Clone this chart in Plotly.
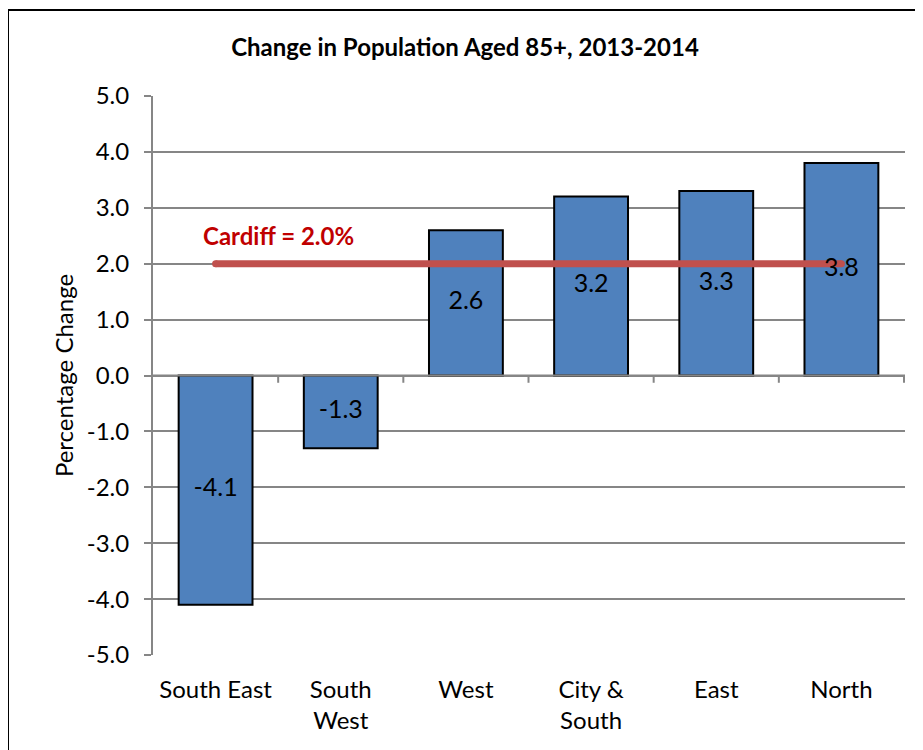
import plotly.graph_objects as go

categories = ["South East", "South<br>West", "West", "City &<br>South", "East", "North"]
values = [-4.1, -1.3, 2.6, 3.2, 3.3, 3.8]
labels = ["-4.1", "-1.3", "2.6", "3.2", "3.3", "3.8"]
cardiff_value = 2.0
cardiff_label = "Cardiff = 2.0%"
y_ticks = [-5, -4, -3, -2, -1, 0, 1, 2, 3, 4, 5]
y_tick_text = ["%.1f" % v for v in y_ticks]

FONT = "Lato"
OX, OY = 8, 8            # page body margin
W, H = 923 - OX, 750 - OY
L, T = 153 - OX, 96 - OY
R = W - (905 - OX)
B = H - (655 - OY)
pw, ph = W - L - R, H - T - B

fig = go.Figure()
fig.add_trace(go.Bar(
    x=categories, y=values,
    marker=dict(color="#4F81BD", line=dict(color="black", width=2)),
    width=0.59, showlegend=False, cliponaxis=False,
))
fig.add_trace(go.Scatter(
    x=[categories[0], categories[-1]], y=[cardiff_value, cardiff_value],
    mode="lines+markers", line=dict(color="#C0504D", width=7),
    marker=dict(color="#C0504D", size=7), showlegend=False, hoverinfo="skip",
))
# data labels centred in the bars, drawn above the Cardiff line
fig.add_trace(go.Scatter(
    x=categories, y=[v / 2 for v in values], text=labels, mode="text",
    textposition="middle center",
    textfont=dict(family=FONT, size=25, color="black"),
    showlegend=False, hoverinfo="skip",
))
fig.add_annotation(x=0.5, y=2.5, xref="x", yref="y", text="<b>" + cardiff_label + "</b>",
                   showarrow=False, font=dict(family=FONT, size=24, color="#C00000"))

# tick marks on the zero line at category boundaries
for k in range(1, len(categories) + 1):
    fig.add_shape(type="line", xref="x", yref="y", x0=k - 0.5, x1=k - 0.5,
                  y0=0, y1=-0.13, line=dict(color="#868686", width=2))
fig.add_shape(type="line", xref="paper", yref="y", x0=0, x1=1, y0=0, y1=0,
              line=dict(color="#868686", width=2))

# chart border
fig.add_shape(type="rect", xref="paper", yref="paper",
              x0=(0 - L) / pw, x1=(W + 20 - L) / pw,
              y0=-(H + 20 - T - ph) / ph, y1=1 + (T - 2) / ph,
              line=dict(color="black", width=2), layer="below")

fig.update_layout(
    width=W, height=H,
    margin=dict(l=L, r=R, t=T, b=B, pad=0),
    paper_bgcolor="white", plot_bgcolor="white",
    font=dict(family=FONT, size=24, color="black"),
    title=dict(text="<b>Change in Population Aged 85+, 2013-2014</b>",
               x=(465 - OX) / W, xanchor="center", y=1 - (48 - OY) / H, yanchor="middle",
               font=dict(family=FONT, size=24, color="black")),
    xaxis=dict(showgrid=False, showline=False, ticks="", zeroline=False,
               tickfont=dict(family=FONT, size=24), fixedrange=True,
               ticklabelstandoff=18),
    yaxis=dict(range=[-5, 5], tickvals=y_ticks, ticktext=y_tick_text,
               showgrid=True, gridcolor="#868686", gridwidth=2,
               showline=True, linecolor="#868686", linewidth=2,
               ticks="outside", ticklen=7, tickcolor="#868686", tickwidth=2,
               zeroline=False, tickfont=dict(family=FONT, size=24),
               ticklabelstandoff=10,
               title=dict(text="Percentage Change", font=dict(family=FONT, size=24), standoff=6)),
)

fig.write_html("out.html")
